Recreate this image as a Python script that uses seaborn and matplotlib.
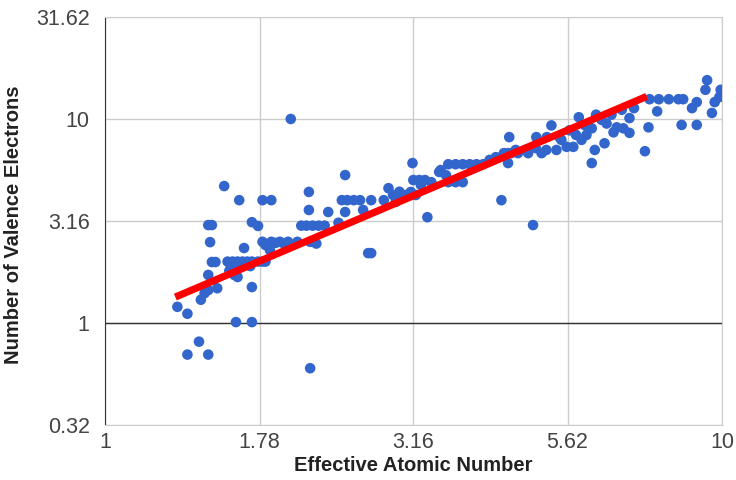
import matplotlib
matplotlib.use("Agg")
import matplotlib.pyplot as plt
import seaborn as sns
import pandas as pd

# effective atomic number vs number of valence electrons
effective_z = [
    1.31, 1.36, 1.42, 1.36, 1.47, 1.43, 1.45, 1.47, 1.52, 1.47, 1.49, 1.51, 1.48, 1.47, 1.49,
    1.56, 1.65, 1.80, 1.86, 1.73, 1.77, 1.68,
    1.58, 1.61, 1.64, 1.67, 1.70, 1.73, 1.77, 1.80, 1.82, 1.60, 1.66, 1.72, 1.59, 1.63, 1.69,
    1.62, 1.64, 1.73, 1.63, 1.73, 1.82, 1.85, 1.89,
    1.80, 1.86, 1.92, 1.98, 2.05, 1.95, 2.15, 2.20,
    2.08, 2.12, 2.17, 2.22, 2.27, 2.39,
    2.14, 2.14, 2.30, 2.45, 2.42, 2.47, 2.53, 2.59, 2.70, 2.45, 2.62, 2.70, 2.67,
    2.83, 2.88, 2.93, 3.00, 3.15, 2.96, 3.02, 3.07, 3.13, 3.19, 3.16, 3.23, 3.30, 3.48,
    3.60, 3.70, 3.80, 3.90, 4.00, 4.10, 3.60, 3.70, 3.80, 3.33, 3.50, 4.39,
    4.52, 4.50, 4.50, 4.43, 4.55, 4.67, 4.85, 4.94, 4.63, 4.80, 4.99, 5.19, 5.39, 5.10,
    5.00, 5.20, 5.45, 5.29, 5.86, 5.66, 5.80, 5.92, 6.03, 6.15, 5.74, 6.50, 6.75, 6.22,
    6.45, 6.15, 7.08, 6.92, 7.08, 7.60, 7.50, 7.63, 7.90, 8.20, 8.50, 8.65, 7.85, 8.60,
    9.10, 8.94, 9.10, 9.46, 9.40, 9.63, 9.73, 9.95, 9.90, 6.25, 6.38, 6.62, 6.88, 7.20,
    6.67, 6.00, 5.49, 5.60, 3.57, 3.25, 3.38, 2.15, 2.00, 4.20, 4.30,
]
valence = [
    1.20, 1.11, 0.81, 0.70, 0.70, 1.30, 1.40, 1.45, 1.48, 1.72, 1.99, 1.99, 2.49, 3.02, 3.02,
    4.69, 4.00, 4.00, 4.00, 3.12, 2.99, 2.33,
    2.00, 2.00, 2.00, 2.00, 2.00, 2.00, 2.00, 2.00, 2.00, 1.90, 1.90, 1.90, 1.80, 1.85, 1.95,
    1.72, 1.68, 1.50, 1.01, 1.01, 2.41, 2.28, 2.47,
    2.50, 2.50, 2.50, 2.50, 2.50, 2.45, 2.50, 2.45,
    3.00, 3.00, 3.00, 3.00, 3.00, 3.10,
    4.39, 3.58, 3.50, 5.31, 4.00, 4.00, 4.00, 4.00, 4.00, 3.50, 3.58, 2.20, 2.20,
    4.00, 4.58, 4.24, 4.40, 6.08, 3.92, 4.15, 4.24, 4.39, 4.24, 5.02, 5.02, 5.02, 5.50,
    6.00, 6.00, 6.00, 6.00, 6.00, 6.00, 4.90, 4.90, 4.90, 3.30, 5.62, 4.00,
    8.15, 6.80, 6.08, 6.80, 6.80, 6.80, 6.80, 3.02, 7.05, 7.05, 7.20, 7.05, 7.05, 6.80,
    8.15, 8.15, 8.15, 9.30, 10.2, 8.80, 8.35, 7.90, 8.35, 9.00, 7.30, 9.50, 9.10, 7.05,
    7.60, 6.08, 10.1, 9.00, 8.55, 9.10, 6.95, 12.5, 12.5, 12.5, 12.5, 12.5, 10.9, 9.35,
    9.35, 11.3, 12.1, 15.5, 13.9, 10.7, 12.1, 13.9, 12.8, 10.5, 9.90, 10.5, 11.1, 11.3,
    8.60, 9.30, 7.90, 7.30, 5.30, 4.75, 4.90, 0.60, 10.0, 6.30, 6.50,
]

# power-law trend line end points
trend_z = [1.30, 7.55]
trend_valence = [1.34, 12.9]

x_ticks = [1, 1.78, 3.16, 5.62, 10]
x_tick_labels = ["1", "1.78", "3.16", "5.62", "10"]
y_ticks = [0.3162, 1, 3.162, 10, 31.62]
y_tick_labels = ["0.32", "1", "3.16", "10", "31.62"]

df = pd.DataFrame({"z": effective_z, "v": valence})
trend = pd.DataFrame({"z": trend_z, "v": trend_valence})

sns.set_style("white")
plt.rcParams["font.family"] = ["Liberation Sans", "DejaVu Sans"]

fig = plt.figure(figsize=(7.36, 4.8), dpi=100)
ax = fig.add_axes([0.1427, 0.1146, 0.8383, 0.85])

ax.set_xscale("log")
ax.set_yscale("log")

sns.scatterplot(data=df, x="z", y="v", ax=ax, color="#3366cc", s=58,
                edgecolor="none", zorder=3)
sns.lineplot(data=trend, x="z", y="v", ax=ax, color="#ff0000", linewidth=5.2,
             zorder=4, solid_capstyle="butt")
ax.axhline(1, color="#333333", linewidth=1, zorder=2)

ax.set_xlim(1, 10)
ax.set_ylim(0.3162, 31.62)
ax.set_xticks(x_ticks)
ax.set_xticklabels(x_tick_labels)
ax.set_yticks(y_ticks)
ax.set_yticklabels(y_tick_labels)
ax.minorticks_off()
ax.grid(True, color="#cccccc", linewidth=1)
ax.tick_params(length=0, labelsize=15.5, labelcolor="#444444")
ax.tick_params(axis="y", pad=11)
ax.tick_params(axis="x", pad=5)

for side in ["top", "right", "bottom"]:
    ax.spines[side].set_color("#cccccc")
ax.spines["left"].set_color("#333333")

ax.set_xlabel("Effective Atomic Number", fontsize=14.5, fontweight="bold", color="#222222")
ax.set_ylabel("Number of Valence Electrons", fontsize=14.5, fontweight="bold", color="#222222")
ax.xaxis.set_label_coords(0.5, -0.077)
ax.yaxis.set_label_coords(-0.133, 0.49)

fig.savefig("out.png", dpi=100)
